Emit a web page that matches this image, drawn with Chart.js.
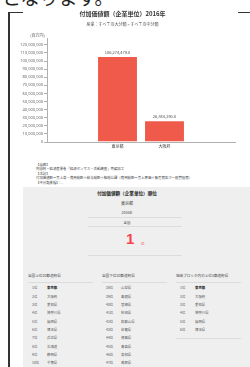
<!DOCTYPE html>
<html lang="ja">
<head>
<meta charset="utf-8">
<script src="https://cdn.jsdelivr.net/npm/chart.js@4.4.1/dist/chart.umd.min.js"></script>
<style>
  html,body{margin:0;padding:0;background:#fff;}
  body{width:250px;height:367px;overflow:hidden;position:relative;font-family:"Noto Sans CJK JP","Noto Sans",sans-serif;color:#333;}
  .abs{position:absolute;white-space:nowrap;}
  #lead{left:2px;top:-13px;font-size:19px;line-height:20px;color:#222;letter-spacing:0px;}
  #frameL{left:8px;top:12px;width:2px;height:360px;background:#333;}
  .frameT{top:12px;height:1px;background:#333;}
  #chartBox{position:absolute;left:10px;top:4px;width:240px;height:154px;}
  .note{left:36px;font-size:3.4px;line-height:4px;color:#444;}
  #panel{left:23px;top:187px;width:227px;height:180px;background:#efefef;}
  .ctr{font-size:4px;line-height:5px;color:#444;transform:translateX(-50%);}
  .hr{height:1px;background:#dcdcdc;}
  .colh{font-size:3.6px;line-height:4px;color:#444;}
  .row{font-size:3.4px;line-height:4px;color:#555;}
  .b{font-weight:bold;color:#222;}
</style>
</head>
<body>
<div id="lead" class="abs">となります。</div>
<div id="frameL" class="abs"></div>
<div class="abs frameT" style="left:8px;width:15px;"></div>
<div class="abs frameT" style="left:238px;width:12px;"></div>
<div id="chartBox"><canvas id="c"></canvas></div>

<div class="abs note" style="top:163px;">【出典】</div>
<div class="abs note" style="top:167px;">内閣府・経済産業省「経済センサス－活動調査」再編加工</div>
<div class="abs note" style="top:172px;">【注記】</div>
<div class="abs note" style="top:176px;">付加価値額＝売上高－費用総額＋給与総額＋租税公課（費用総額＝売上原価＋販売費及び一般管理費）</div>
<div class="abs note" style="top:181px;">【中分類業種】：-</div>

<div id="panel" class="abs"></div>
<div id="rankArea"></div>

<script>
// ---- data ----
const categories = ['東京都', '大阪府'];
const values = [106274479, 26844290];
const yTicks = [0, 10000000, 20000000, 30000000, 40000000, 50000000, 60000000, 70000000, 80000000, 90000000, 100000000, 110000000, 120000000];
const chartTitle = '付加価値額（企業単位）2016年';
const chartSubtitle = '産業：すべての大分類 > すべての中分類';
const yUnit = '(百万円)';

const topRanks = ['1位','2位','3位','4位','5位','6位','7位','8位','9位','10位'];
const topNames = ['東京都','大阪府','愛知県','神奈川県','福岡県','埼玉県','兵庫県','北海道','静岡県','千葉県'];
const lowRanks = ['38位','39位','40位','41位','42位','43位','44位','45位','46位','47位'];
const lowNames = ['山梨県','島根県','宮崎県','秋田県','和歌山県','佐賀県','徳島県','青森県','高知県','鳥取県'];
const areaRanks = ['1位','2位','3位','4位','5位','6位'];
const areaNames = ['東京都','大阪府','愛知県','神奈川県','福岡県','埼玉県'];

// ---- chart ----
const padLabels = [''].concat(categories, ['']);
const padValues = [null].concat(values, [null]);

const fmt = v => Number(v).toLocaleString('en-US');

const extras = {
  id: 'extras',
  afterDatasetsDraw(chart) {
    const ctx = chart.ctx;
    const meta = chart.getDatasetMeta(0);
    ctx.save();
    ctx.font = '4px "Noto Sans CJK JP", sans-serif';
    ctx.fillStyle = '#555';
    ctx.textAlign = 'center';
    ctx.textBaseline = 'bottom';
    meta.data.forEach((el, i) => {
      const v = padValues[i];
      if (v == null) return;
      ctx.fillText(fmt(v) + '.0', el.x, el.y - 1.5);
    });
    const ys = chart.scales.y;
    ctx.textBaseline = 'middle';
    ctx.fillText(yUnit, ys.right - 9.5, chart.chartArea.top - 2.5);
    ctx.restore();
  }
};

new Chart(document.getElementById('c'), {
  type: 'bar',
  data: {
    labels: padLabels,
    datasets: [{
      data: padValues,
      backgroundColor: '#ef5a4b',
      borderColor: '#ffffff',
      borderWidth: 1,
      categoryPercentage: 1,
      barPercentage: 0.87
    }]
  },
  options: {
    responsive: true,
    maintainAspectRatio: false,
    animation: false,
    layout: { padding: { top: 0, right: 15, bottom: 0, left: 0 } },
    plugins: {
      legend: { display: false },
      tooltip: { enabled: false },
      title: {
        display: true, text: chartTitle, color: '#333',
        font: { size: 6, weight: 'bold', family: '"Noto Sans CJK JP", sans-serif' },
        padding: { top: 6.4, bottom: 4 }
      },
      subtitle: {
        display: true, text: chartSubtitle, color: '#555',
        font: { size: 4, family: '"Noto Sans CJK JP", sans-serif' },
        padding: { top: 0, bottom: 11.6 }
      }
    },
    scales: {
      x: {
        offset: true,
        grid: { display: true, drawOnChartArea: false, drawTicks: false },
        border: { display: true, color: '#b0b0b0', width: 1 },
        ticks: { color: '#444', padding: 2, font: { size: 4, family: '"Noto Sans CJK JP", sans-serif' }, maxRotation: 0, autoSkip: false },
        afterFit(s) { s.height = 16; }
      },
      y: {
        min: 0, max: 128500000,
        afterBuildTicks(s) { s.ticks = yTicks.map(v => ({ value: v })); },
        grid: { display: true, drawOnChartArea: false, tickLength: 3, color: '#b0b0b0' },
        border: { display: true, color: '#b0b0b0', width: 1 },
        ticks: {
          autoSkip: false, color: '#666', padding: 1,
          font: { size: 4, family: '"Noto Sans", sans-serif' },
          callback: v => fmt(v)
        },
        afterFit(s) { s.width = 37; }
      }
    }
  },
  plugins: [extras]
});

// ---- ranking panel (HTML text) ----
const area = document.getElementById('rankArea');
function add(cls, txt, left, top, extraStyle) {
  const d = document.createElement('div');
  d.className = 'abs ' + cls;
  d.textContent = txt;
  d.style.left = left + 'px';
  d.style.top = top + 'px';
  if (extraStyle) d.style.cssText += extraStyle;
  area.appendChild(d);
  return d;
}
function line(left, top, width) {
  const d = document.createElement('div');
  d.className = 'abs hr';
  d.style.left = left + 'px'; d.style.top = top + 'px'; d.style.width = width + 'px';
  area.appendChild(d);
}
add('ctr b', '付加価値額（企業単位）順位', 127, 190.5, 'font-size:4.6px;');
add('ctr', '東京都', 127, 200.5);
add('ctr', '2016年', 127, 209.5, 'font-size:3.4px;');
line(88, 217, 94);
add('ctr', '全国', 127, 219.5, 'font-size:3.4px;');
line(88, 226, 94);
add('', '1', 126, 231, 'font-family:"Liberation Sans",Arial,sans-serif;font-weight:bold;font-size:15px;line-height:16px;color:#f5474b;');
add('', '位', 141, 242, 'font-size:3.6px;line-height:4px;color:#f5474b;');
line(88, 255, 94);

const cols = [
  { head: '全国上位10都道府県', x: 28, ranks: topRanks, names: topNames, boldFirst: true },
  { head: '全国下位10都道府県', x: 102, ranks: lowRanks, names: lowNames, boldFirst: false },
  { head: '地域ブロック内の上位5都道府県', x: 176, ranks: areaRanks, names: areaNames, boldFirst: true }
];
cols.forEach(c => {
  add('colh', c.head, c.x, 274);
  line(c.x, 282, 65);
  c.ranks.forEach((r, i) => {
    const y = 286.3 + i * 8.33;
    add('row', r, c.x + 4, y);
    add('row' + (c.boldFirst && i === 0 ? ' b' : ''), c.names[i], c.x + 19, y);
  });
  if (c.ranks.length < 10) line(c.x, 286.3 + c.ranks.length * 8.33 + 1.3, 65);
});
</script>
</body>
</html>
